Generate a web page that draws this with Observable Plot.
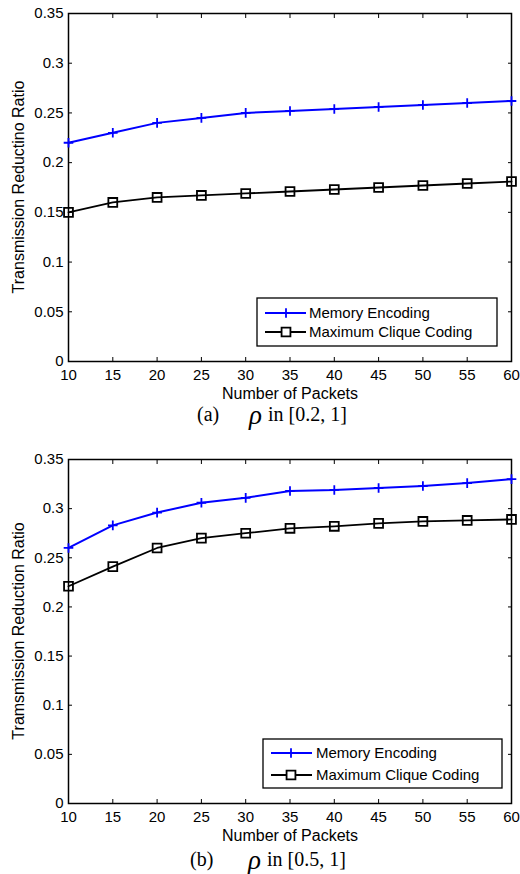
<!DOCTYPE html>
<html><head><meta charset="utf-8">
<script src="https://cdn.jsdelivr.net/npm/d3@7"></script>
<script src="https://cdn.jsdelivr.net/npm/@observablehq/plot@0.6"></script>
<style>
html,body{margin:0;padding:0;background:#fff;}
#page{position:relative;width:520px;height:874px;overflow:hidden;background:#fff;}
#page > svg{position:absolute;left:0;}
</style></head><body><div id="page"></div>
<script>
// ---- data ----
const packets = [10, 15, 20, 25, 30, 35, 40, 45, 50, 55, 60];
const memoryA = [0.220, 0.230, 0.240, 0.245, 0.250, 0.252, 0.254, 0.256, 0.258, 0.260, 0.262];
const cliqueA = [0.150, 0.160, 0.165, 0.167, 0.169, 0.171, 0.173, 0.175, 0.177, 0.179, 0.181];
const memoryB = [0.260, 0.283, 0.296, 0.306, 0.311, 0.318, 0.319, 0.321, 0.323, 0.326, 0.330];
const cliqueB = [0.221, 0.241, 0.260, 0.270, 0.275, 0.280, 0.282, 0.285, 0.287, 0.288, 0.289];
const seriesNames = ["Memory Encoding", "Maximum Clique Coding"];
const seriesColors = ["#0000ff", "#000000"];
const xTicks = [10, 15, 20, 25, 30, 35, 40, 45, 50, 55, 60];
const yTicks = [0, 0.05, 0.1, 0.15, 0.2, 0.25, 0.3, 0.35];
const xLabel = "Number of Packets";
const yLabels = ["Transmission Reductino Ratio", "Tramsmission Reduction Ratio"];
const captionTags = ["(a)", "(b)"];
const captionRanges = ["in [0.2, 1]", "in [0.5, 1]"];
const rhoSymbol = "\u03C1";

// ---- layout ----
const layouts = [
  {top: 0, height: 400, mt: 13, mb: 39, legend: {x: 257, y: 298, w: 240, h: 48, r1: 15, r2: 34, l0: 8, l1: 49, m: 29, t: 52},
   cap: {base: 421, tag: 197, rho: 249, rng: 268}},
  {top: 440, height: 410, mt: 19, mb: 47, legend: {x: 263, y: 299, w: 239, h: 49, r1: 14, r2: 36, l0: 8, l1: 49, m: 28, t: 53},
   cap: {base: 866, tag: 190, rho: 248, rng: 267}}
];
const memories = [memoryA, memoryB];
const cliques = [cliqueA, cliqueB];

const page = d3.select("#page");
const sans = "'Liberation Sans', Arial, Helvetica, sans-serif";
const serif = "'Liberation Serif', 'Times New Roman', Times, serif";
const plusR = 3.2, squareR = 5;

function chart(k) {
  const L = layouts[k];
  const mem = packets.map((p, i) => ({packets: p, ratio: memories[k][i], series: seriesNames[0]}));
  const cli = packets.map((p, i) => ({packets: p, ratio: cliques[k][i], series: seriesNames[1]}));
  const svg = Plot.plot({
    width: 520, height: L.height,
    marginTop: L.mt, marginBottom: L.mb, marginLeft: 68, marginRight: 9,
    style: {fontFamily: sans, fontSize: "15px", color: "#000", background: "#fff", overflow: "visible"},
    x: {domain: [10, 60]},
    y: {domain: [0, 0.35]},
    marks: [
      Plot.frame({stroke: "#000", strokeWidth: 1.5}),
      Plot.axisX(xTicks, {anchor: "bottom", tickSize: -4, tickPadding: 12, tickFormat: d => String(d), label: null, fontSize: 15}),
      Plot.axisX(xTicks, {anchor: "top", tickSize: -4, tickFormat: () => "", label: null}),
      Plot.axisY(yTicks, {anchor: "left", tickSize: -4, tickPadding: 9, tickFormat: d => String(+d.toFixed(2)), label: null, fontSize: 15}),
      Plot.axisY(yTicks, {anchor: "right", tickSize: -4, tickFormat: () => "", label: null}),
      Plot.line(mem, {x: "packets", y: "ratio", stroke: seriesColors[0], strokeWidth: 2}),
      Plot.dot(mem, {x: "packets", y: "ratio", symbol: "plus", r: plusR, stroke: seriesColors[0], strokeWidth: 1.8}),
      Plot.line(cli, {x: "packets", y: "ratio", stroke: seriesColors[1], strokeWidth: 1.8}),
      Plot.dot(cli, {x: "packets", y: "ratio", symbol: "square", r: squareR, fill: "none", stroke: seriesColors[1], strokeWidth: 1.8}),
      Plot.text([xLabel], {frameAnchor: "bottom", text: d => d, dy: 32, lineAnchor: "middle", fontSize: 16})
    ]
  });
  const s = d3.select(svg).style("top", L.top + "px");
  // y axis label
  const cy = (L.mt + L.height - L.mb) / 2;
  s.append("text").attr("transform", `translate(18,${cy}) rotate(-90)`)
    .attr("text-anchor", "middle").attr("dy", "0.35em")
    .attr("font-size", 16).attr("font-family", sans).attr("fill", "#000").text(yLabels[k]);
  // legend box
  const g = s.append("g").attr("transform", `translate(${L.legend.x},${L.legend.y})`);
  g.append("rect").attr("width", L.legend.w).attr("height", L.legend.h)
    .attr("fill", "#fff").attr("stroke", "#000").attr("stroke-width", 1.3);
  const rowsY = [L.legend.r1, L.legend.r2];
  const syms = [d3.symbolPlus, d3.symbolSquare];
  const rs = [plusR, squareR];
  seriesNames.forEach((name, i) => {
    const y = rowsY[i];
    g.append("line").attr("x1", L.legend.l0).attr("x2", L.legend.l1).attr("y1", y).attr("y2", y)
      .attr("stroke", seriesColors[i]).attr("stroke-width", 2);
    g.append("path").attr("d", d3.symbol(syms[i], Math.PI * rs[i] * rs[i])())
      .attr("transform", `translate(${L.legend.m},${y})`)
      .attr("fill", i === 0 ? "none" : "#fff").attr("stroke", seriesColors[i]).attr("stroke-width", 1.8);
    g.append("text").attr("x", L.legend.t).attr("y", y).attr("dy", "0.35em")
      .attr("text-anchor", "start")
      .attr("font-size", 15).attr("font-family", sans).attr("fill", "#000").text(name);
  });
  page.node().appendChild(svg);
}
chart(0);
chart(1);

// captions
const capSvg = page.append("svg").attr("width", 520).attr("height", 874).style("top", "0px")
  .style("pointer-events", "none");
layouts.forEach((L, k) => {
  const t = capSvg.append("g").attr("font-family", serif).attr("fill", "#000").attr("text-anchor", "start");
  t.append("text").attr("x", L.cap.tag).attr("y", L.cap.base).attr("font-size", 20).text(captionTags[k]);
  t.append("text").attr("x", L.cap.rho).attr("y", L.cap.base + 3).attr("font-size", 27).attr("font-style", "italic").text(rhoSymbol);
  t.append("text").attr("x", L.cap.rng).attr("y", L.cap.base).attr("font-size", 20).text(captionRanges[k]);
});
</script></body></html>
